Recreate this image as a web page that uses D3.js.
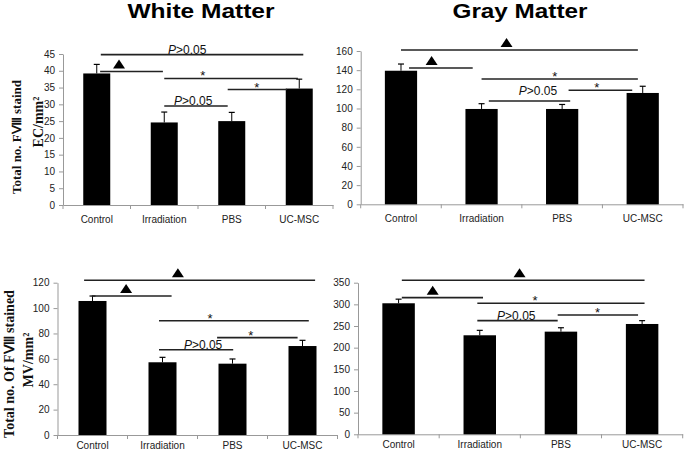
<!DOCTYPE html>
<html><head><meta charset="utf-8">
<script src="https://cdn.jsdelivr.net/npm/d3@7/dist/d3.min.js"></script>
<style>
html,body{margin:0;padding:0;background:#fff;}
svg{display:block;}
.tick text{font-family:"Liberation Sans",Arial,sans-serif;font-size:10px;fill:#222;}
</style></head>
<body><svg id="chart" width="685" height="451"></svg>
<script>
// ---- data ----
const categories = ["Control", "Irradiation", "PBS", "UC-MSC"];
const titles = ["White Matter", "Gray Matter"];

const wmECMeans = [39.2, 24.6, 25.0, 34.7];
const wmECErrors = [2.7, 3.1, 2.6, 2.8];
const gmECMeans = [139.4, 99.5, 99.5, 116.2];
const gmECErrors = [7.0, 5.5, 4.7, 7.0];
const wmMVMeans = [105.6, 57.3, 56.2, 70.1];
const wmMVErrors = [3.9, 3.9, 3.7, 4.5];
const gmMVMeans = [302.5, 228.6, 237.0, 254.7];
const gmMVErrors = [9.5, 11.4, 9.0, 7.7];

const wmECTicks = [0, 5, 10, 15, 20, 25, 30, 35, 40, 45];
const gmECTicks = [0, 20, 40, 60, 80, 100, 120, 140, 160];
const wmMVTicks = [0, 20, 40, 60, 80, 100, 120];
const gmMVTicks = [0, 50, 100, 150, 200, 250, 300, 350];

const ecLabel = ["Total no. F\u2167 staind", "EC/mm\u00B2"];
const mvLabel = ["Total no. Of F\u2167 stained", "MV/mm\u00B2"];

// significance annotations: from/to in category-index units, y in data units
const wmECSig = [
  {from: 0.06, to: 3.06, y: 44.8, mark: "P", at: 1.34},
  {from: 0.05, to: 0.98, y: 39.8, mark: "tri", at: 0.33},
  {from: 1.0, to: 2.98, y: 37.7, mark: "*", at: 1.57},
  {from: 1.94, to: 2.82, y: 34.4, mark: "*", at: 2.37},
  {from: 1.0, to: 1.94, y: 29.5, mark: "P", at: 1.43}
];
const gmECSig = [
  {from: 0.0, to: 2.94, y: 161, mark: "tri", at: 1.31},
  {from: 0.1, to: 0.89, y: 142.3, mark: "tri", at: 0.38},
  {from: 1.0, to: 2.94, y: 130.8, mark: "*", at: 1.91},
  {from: 2.08, to: 2.87, y: 119, mark: "*", at: 2.43},
  {from: 1.09, to: 2.1, y: 107.8, mark: "Pgap", at: 1.7}
];
const wmMVSig = [
  {from: -0.12, to: 3.18, y: 121.9, mark: "tri", at: 1.22},
  {from: -0.01, to: 1.13, y: 109.5, mark: "tri", at: 0.48},
  {from: 0.95, to: 3.09, y: 90.0, mark: "*", at: 1.68},
  {from: 1.78, to: 2.93, y: 76.7, mark: "*", at: 2.26},
  {from: 0.95, to: 2.01, y: 67.2, mark: "P", at: 1.58}
];
const gmMVSig = [
  {from: 0.04, to: 3.03, y: 355.7, mark: "tri", at: 1.49},
  {from: 0.04, to: 1.04, y: 315.5, mark: "tri", at: 0.42},
  {from: 0.97, to: 3.03, y: 302.5, mark: "*", at: 1.68},
  {from: 1.96, to: 2.95, y: 275.5, mark: "*", at: 2.45},
  {from: 0.97, to: 1.96, y: 262.4, mark: "P", at: 1.45}
];

// ---- layout ----
const panels = [
  {means: wmECMeans, errs: wmECErrors, ticks: wmECTicks, sig: wmECSig, xr: [63, 333], yr: [205, 54], pad: 11, label: ecLabel, lx: [16, 38], ly: [137, 122], lfs: [13, 14], title: titles[0], tx: 201},
  {means: gmECMeans, errs: gmECErrors, ticks: gmECTicks, sig: gmECSig, xr: [360.7, 683], yr: [204.3, 51], pad: 11, label: null, title: titles[1], tx: 520},
  {means: wmMVMeans, errs: wmMVErrors, ticks: wmMVTicks, sig: wmMVSig, xr: [57.5, 337.5], yr: [435, 282.7], pad: 7, label: mvLabel, lx: [9, 28], ly: [364, 360], lfs: [14, 14]},
  {means: gmMVMeans, errs: gmMVErrors, ticks: gmMVTicks, sig: gmMVSig, xr: [358, 682.7], yr: [434.3, 282.7], pad: 7, label: null}
];

const svg = d3.select("#chart");
const sans = "'Liberation Sans', Arial, sans-serif";
const serif = "'Liberation Serif', 'Times New Roman', serif";

panels.forEach(p => {
  const g = svg.append("g");
  const x = d3.scaleBand().domain(categories).range(p.xr).paddingInner(0.6).paddingOuter(0.3);
  const y = d3.scaleLinear().domain([0, d3.max(p.ticks)]).range(p.yr);
  const xAt = f => x(categories[0]) + x.bandwidth() / 2 + f * x.step();

  // y axis
  const ya = g.append("g").attr("transform", `translate(${p.xr[0]},0)`)
    .call(d3.axisLeft(y).tickValues(p.ticks).tickSize(4).tickPadding(4).tickSizeOuter(0));
  ya.select(".domain").attr("stroke", "#999");
  ya.selectAll(".tick line").attr("stroke", "#999");

  // x axis
  const xa = g.append("g").attr("transform", `translate(0,${p.yr[0]})`)
    .call(d3.axisBottom(x).tickSize(0).tickPadding(p.pad).tickSizeOuter(0));
  xa.select(".domain").attr("stroke", "#999");
  const bounds = d3.range(categories.length + 1).map(i => xAt(i - 0.5));
  xa.selectAll(".bnd").data(bounds).enter().append("line")
    .attr("x1", d => d).attr("x2", d => d).attr("y1", 0).attr("y2", 4).attr("stroke", "#999");

  // bars
  g.selectAll(".bar").data(p.means).enter().append("rect")
    .attr("x", (d, i) => x(categories[i]))
    .attr("width", x.bandwidth())
    .attr("y", d => y(d))
    .attr("height", d => y(0) - y(d))
    .attr("fill", "#000");

  // error bars (upper)
  p.means.forEach((m, i) => {
    const cx = x(categories[i]) + x.bandwidth() / 2;
    g.append("line").attr("x1", cx).attr("x2", cx).attr("y1", y(m)).attr("y2", y(m + p.errs[i]))
      .attr("stroke", "#000").attr("stroke-width", 1);
    g.append("line").attr("x1", cx - 3).attr("x2", cx + 3).attr("y1", y(m + p.errs[i])).attr("y2", y(m + p.errs[i]))
      .attr("stroke", "#000").attr("stroke-width", 1.2);
  });

  // significance annotations
  p.sig.forEach(s => {
    const yy = y(s.y);
    g.append("line").attr("x1", xAt(s.from)).attr("x2", xAt(s.to)).attr("y1", yy).attr("y2", yy)
      .attr("stroke", "#222").attr("stroke-width", 1.6);
    const cx = xAt(s.at);
    if (s.mark === "tri") {
      g.append("path").attr("d", `M${cx - 6},${yy - 3}L${cx + 6},${yy - 3}L${cx},${yy - 12}Z`).attr("fill", "#000");
    } else if (s.mark === "*") {
      g.append("text").attr("x", cx).attr("y", yy + 2).attr("text-anchor", "middle")
        .style("font-family", sans).style("font-size", "13px").attr("fill", "#111").text("*");
    } else {
      const t = g.append("text").attr("x", cx).attr("y", s.mark === "Pgap" ? yy - 6 : yy - 1)
        .attr("text-anchor", "middle").style("font-family", sans).style("font-size", "12px").attr("fill", "#111");
      t.append("tspan").style("font-style", "italic").text("P");
      t.append("tspan").text(">0.05");
    }
  });

  // y label
  if (p.label) {
    p.label.forEach((l, k) => {
      g.append("text").attr("transform", `translate(${p.lx[k]},${p.ly[k]}) rotate(-90)`)
        .attr("text-anchor", "middle").attr("dominant-baseline", "central")
        .style("font-family", serif).style("font-weight", "bold").style("font-size", p.lfs[k] + "px")
        .attr("fill", "#111").text(l);
    });
  }

  // title
  if (p.title) {
    g.append("text").attr("x", p.tx).attr("y", 18).attr("text-anchor", "middle")
      .style("font-family", sans).style("font-weight", "bold").style("font-size", "21px")
      .attr("textLength", p.title === "White Matter" ? 147 : 135).attr("lengthAdjust", "spacingAndGlyphs")
      .attr("fill", "#000").text(p.title);
  }
});
</script></body></html>
